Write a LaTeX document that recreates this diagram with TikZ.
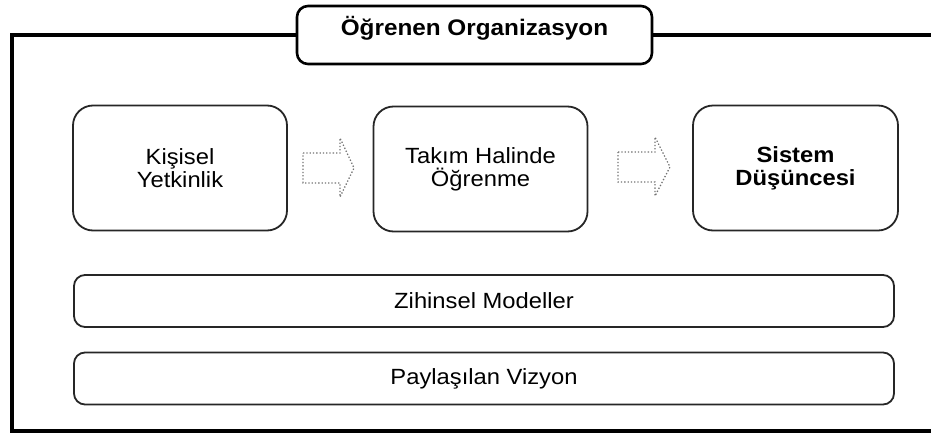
\documentclass[tikz,border=0pt]{standalone}
\usepackage{fontspec}
\setmainfont[FakeStretch=1.08]{Liberation Sans}
\begin{document}
\begin{tikzpicture}[x=1pt,y=-1pt,
  every node/.style={inner sep=0pt, outer sep=0pt},
  bigbox/.style={draw=black!85, line width=1.8pt, rounded corners=20pt, fill=white,
    minimum width=214pt, minimum height=125pt, align=center,
    font=\fontsize{22}{23}\selectfont},
  barbox/.style={draw=black!85, line width=1.8pt, rounded corners=11pt, fill=white,
    minimum width=820pt, minimum height=52pt,
    font=\fontsize{22}{23}\selectfont},
  flowarrow/.style={draw=black!55, line width=1.3pt, dotted, line join=miter},
  frameline/.style={line width=4pt, black}
]
\useasboundingbox (0,0) rectangle (931,434);

% title tab on the frame
\node[draw=black, line width=2.6pt, rounded corners=11pt, fill=white,
      minimum width=355pt, minimum height=58pt] (title) at (474.5,35) {};
\node[font=\bfseries\fontsize{22.5}{24}\selectfont] (titletext)
      at ([yshift=7pt]title.center) {Öğrenen Organizasyon};

% outer frame, open on the right
\draw[frameline] (title.west) -| (12,431) -- (931,431);
\draw[frameline] (title.east) -- (931,35);

% three disciplines in a row
\node[bigbox] (kisisel) at (180,168) {Kişisel\\Yetkinlik};
\node[bigbox] (takim) at (480.5,169) {Takım Halinde\\Öğrenme};
\node[bigbox, minimum width=205pt, font=\bfseries\fontsize{22}{23}\selectfont]
      (sistem) at (795.5,168) {Sistem\\Düşüncesi};

% dotted block arrows between them
\draw[flowarrow] (303,153) -- (340,153) -- (340,138) -- (354,168)
  -- (340,197) -- (340,183) -- (303,183) -- cycle;
\draw[flowarrow] (618,152) -- (655,152) -- (655,137) -- (670,167)
  -- (655,196) -- (655,182) -- (618,182) -- cycle;

% the two underlying disciplines
\node[barbox] (zihinsel) at (484,301) {Zihinsel Modeller};
\node[barbox] (vizyon) at (484,378.5) {Paylaşılan Vizyon};
\end{tikzpicture}
\end{document}
